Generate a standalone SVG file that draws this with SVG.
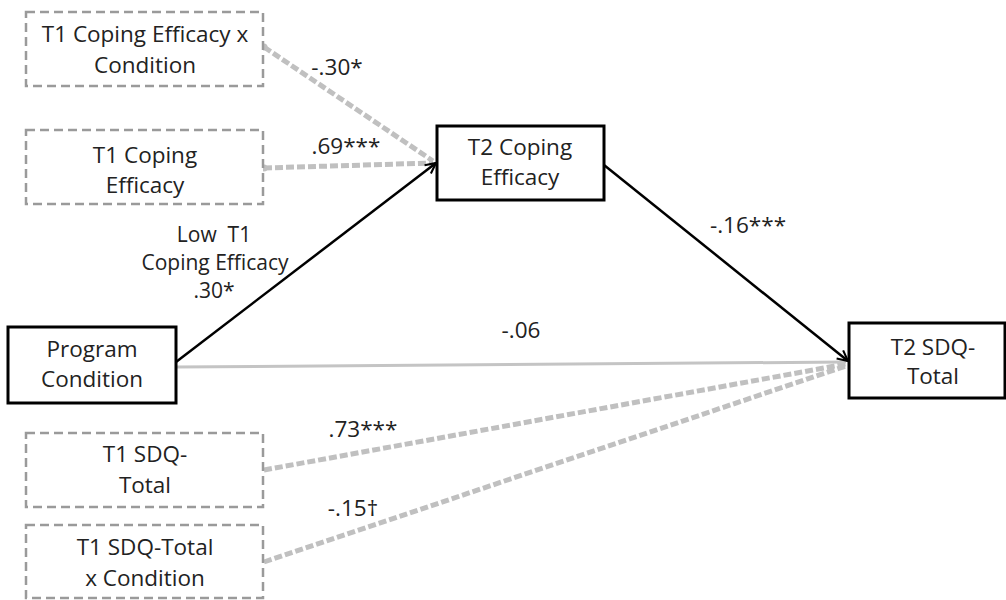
<svg xmlns="http://www.w3.org/2000/svg" width="1006" height="600" viewBox="0 0 1006 600">
  <style>
    text { font-family: "Open Sans", "Liberation Sans", sans-serif; font-size: 22.5px; fill: #222; }
    .lbl { text-anchor: middle; }
    .sm { font-size: 21px; }
    .box { fill: #fff; stroke: #000; stroke-width: 3; }
    .dbox { fill: #fff; stroke: #9a9a9a; stroke-width: 2.5; stroke-dasharray: 9 5; }
    .path { fill: none; stroke: #000; stroke-width: 2.5; }
    .gpath { fill: none; stroke: #c4c4c4; stroke-width: 3; }
    .dpath { fill: none; stroke: #c0c0c0; stroke-width: 5; stroke-dasharray: 8 3; }
    .dot { fill: #c0c0c0; }
  </style>
  <defs>
    <marker id="arrow" viewBox="0 0 12 12" refX="11" refY="6" markerWidth="5" markerHeight="5" orient="auto" markerUnits="strokeWidth">
      <path d="M1,1 L11,6 L1,11" fill="none" stroke="#000" stroke-width="2"/>
    </marker>
  </defs>
  <rect width="1006" height="600" fill="#fff"/>

  <g id="connectors">
    <!-- covariate paths (dashed, grey) -->
    <line class="dpath" x1="264" y1="47" x2="433" y2="161"/>
    <circle class="dot" cx="264" cy="47" r="3.5"/>
    <line class="dpath" x1="264" y1="168" x2="433" y2="163"/>
    <circle class="dot" cx="264" cy="168" r="3.5"/>
    <line class="dpath" x1="264" y1="470" x2="846" y2="364"/>
    <line class="dpath" x1="264" y1="562" x2="846" y2="366"/>
    <!-- direct effect (solid, grey) -->
    <line class="gpath" x1="176" y1="367" x2="846" y2="362"/>
    <!-- mediation paths (solid, black) -->
    <line class="path" x1="176" y1="362" x2="436" y2="163" marker-end="url(#arrow)"/>
    <line class="path" x1="604" y1="165" x2="848" y2="361" marker-end="url(#arrow)"/>
    <!-- path coefficients -->
    <text class="lbl" x="337" y="75">-.30*</text>
    <text class="lbl" x="346" y="154">.69***</text>
    <text class="lbl sm" x="214" y="242">Low&#160; T1</text>
    <text class="lbl sm" x="215" y="270">Coping Efficacy</text>
    <text class="lbl sm" x="214" y="298">.30*</text>
    <text class="lbl" x="748" y="233">-.16***</text>
    <text class="lbl" x="521" y="338">-.06</text>
    <text class="lbl" x="363" y="437">.73***</text>
    <text class="lbl" x="353" y="516">-.15†</text>
  </g>

  <g id="t1-coping-x-condition">
    <rect class="dbox" x="26" y="12" width="237" height="74"/>
    <text class="lbl" x="145" y="42">T1 Coping Efficacy x</text>
    <text class="lbl" x="145" y="73">Condition</text>
  </g>
  <g id="t1-coping">
    <rect class="dbox" x="26" y="130" width="237" height="74"/>
    <text class="lbl" x="145" y="163">T1 Coping</text>
    <text class="lbl" x="145" y="193">Efficacy</text>
  </g>
  <g id="t2-coping">
    <rect class="box" x="437" y="126" width="167" height="74"/>
    <text class="lbl" x="520" y="155">T2 Coping</text>
    <text class="lbl" x="520" y="185">Efficacy</text>
  </g>
  <g id="program-condition">
    <rect class="box" x="8" y="327" width="168" height="76"/>
    <text class="lbl" x="92" y="357">Program</text>
    <text class="lbl" x="92" y="387">Condition</text>
  </g>
  <g id="t2-sdq">
    <rect class="box" x="849" y="323" width="156" height="75"/>
    <text class="lbl" x="933" y="355">T2 SDQ-</text>
    <text class="lbl" x="933" y="384">Total</text>
  </g>
  <g id="t1-sdq">
    <rect class="dbox" x="26" y="433" width="237" height="74"/>
    <text class="lbl" x="145" y="462">T1 SDQ-</text>
    <text class="lbl" x="145" y="493">Total</text>
  </g>
  <g id="t1-sdq-x-condition">
    <rect class="dbox" x="26" y="525" width="237" height="73"/>
    <text class="lbl" x="145" y="555">T1 SDQ-Total</text>
    <text class="lbl" x="145" y="586">x Condition</text>
  </g>
</svg>
